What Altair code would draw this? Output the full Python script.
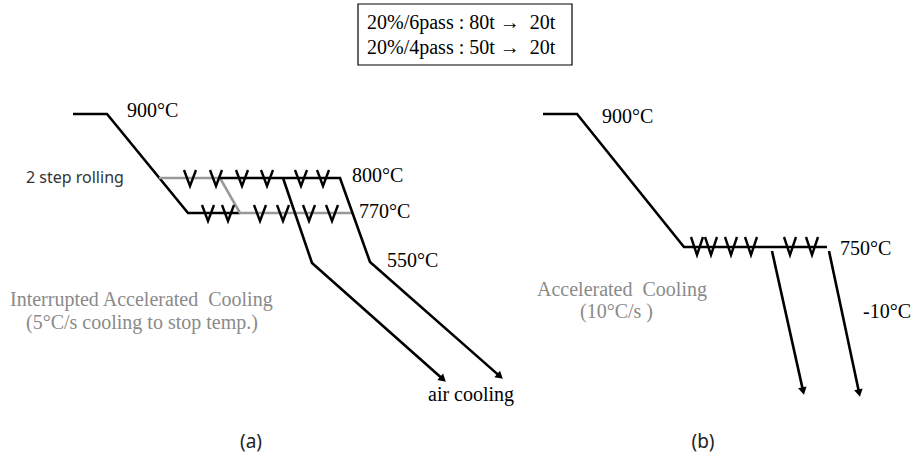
import math
import pandas as pd
import altair as alt

W, H = 918, 457
NB = "\u00a0"

# ---- schematic polylines (x, y in picture units, y downward) ----
path_names = ["a_main", "a_2step", "a_cool_right", "a_cool_left", "b_main", "b_cool_left", "b_cool_right"]
path_colors = ["#000000", "#999999", "#000000", "#000000", "#000000", "#000000", "#000000"]
path_x = [
    [73, 107, 188, 240],
    [159, 220, 240, 353],
    [220, 340, 370, 503],
    [283, 312, 446],
    [543, 577, 684, 827],
    [772, 804],
    [829, 860],
]
path_y = [
    [114, 114, 213, 213],
    [178, 178, 213, 213],
    [178, 178, 262, 379],
    [178, 263, 382],
    [114, 114, 247, 247],
    [251, 395],
    [251, 397],
]
path_arrow = [False, False, True, True, False, True, True]

# ---- rolling pass marks (V), centred on the rolling lines ----
v_upper_x = [190, 216, 242, 267, 301, 323]
v_upper_line = 178
v_lower_x = [208, 228, 260, 283, 309, 332]
v_lower_line = 213
v_b_x = [697, 711, 731, 751, 790, 812]
v_b_line = 247

# ---- labels ----
serif_black = [
    ("900°C", 127, 111), ("800°C", 352, 176), ("770°C", 359, 212), ("550°C", 387, 261),
    ("air cooling", 428, 395), ("900°C", 602, 117), ("750°C", 840, 249), ("-10°C", 863, 312),
    (f"20%/6pass : 80t →{NB} 20t", 367, 23), (f"20%/4pass : 50t →{NB} 20t", 367, 48),
]
serif_gray = [
    (f"Interrupted Accelerated{NB} Cooling", 10, 300), ("(5°C/s cooling to stop temp.)", 26, 323),
    (f"Accelerated{NB} Cooling", 537, 290), ("(10°C/s )", 580, 312),
]
sans_labels = [("2 step rolling", 26, 178)]
panel_labels = [("(a)", 251, 442), ("(b)", 703, 442)]
box_x, box_x2, box_y, box_y2 = 358, 572, 4, 65

# ---- build tables ----
rows, arrows = [], []
for name, col, xs_, ys_, arr in zip(path_names, path_colors, path_x, path_y, path_arrow):
    xs_ = list(xs_); ys_ = list(ys_)
    if arr:
        dx, dy = xs_[-1] - xs_[-2], ys_[-1] - ys_[-2]
        L = math.hypot(dx, dy)
        ux, uy = dx / L, dy / L
        cx, cy = xs_[-1] - ux * 4, ys_[-1] - uy * 4
        ang = math.degrees(math.atan2(dx, -dy)) % 360
        arrows.append({"x": cx, "y": cy, "angle": ang})
        xs_[-1], ys_[-1] = cx, cy
    for i, (x, y) in enumerate(zip(xs_, ys_)):
        rows.append({"path": name, "order": i, "x": x, "y": y, "color": col})
lines_df = pd.DataFrame(rows)
arrows_df = pd.DataFrame(arrows)

# V glyphs drawn as little strokes around each pass position
V_HALF_W, V_UP, V_DOWN = 6, 8, 8
vrows = []
k = 0
for centers, ly, up in [(v_upper_x, v_upper_line, V_UP), (v_lower_x, v_lower_line, V_UP), (v_b_x, v_b_line, 10)]:
    for cxv in centers:
        for j, (ox, oy) in enumerate([(-V_HALF_W, -up), (0, V_DOWN), (V_HALF_W, -up)]):
            vrows.append({"v": k, "order": j, "x": cxv + ox, "y": ly + oy})
        k += 1
v_df = pd.DataFrame(vrows)

def lab(lst):
    return pd.DataFrame([{"t": t, "x": x, "y": y} for t, x, y in lst])

xs = alt.Scale(domain=[0, W], nice=False, zero=False)
ys = alt.Scale(domain=[0, H], reverse=True, nice=False, zero=False)
X = alt.X("x:Q", scale=xs, axis=None)
Y = alt.Y("y:Q", scale=ys, axis=None)

lines = alt.Chart(lines_df).mark_line(strokeWidth=2.6, strokeCap="butt", strokeJoin="miter").encode(
    x=X, y=Y, detail="path:N", order="order:Q", color=alt.Color("color:N", scale=None)
)
heads = alt.Chart(arrows_df).mark_point(shape="triangle-up", filled=True, size=75, color="black", opacity=1).encode(
    x=X, y=Y, angle=alt.Angle("angle:Q", scale=None)
)
vmarks = alt.Chart(v_df).mark_line(strokeWidth=2.4, color="black", strokeJoin="miter").encode(
    x=X, y=Y, detail="v:N", order="order:Q"
)
t_black = alt.Chart(lab(serif_black)).mark_text(font="Liberation Serif", fontSize=20, align="left", baseline="middle", color="black").encode(
    x=X, y=Y, text="t:N"
)
t_gray = alt.Chart(lab(serif_gray)).mark_text(font="Liberation Serif", fontSize=20, align="left", baseline="middle", color="#8a8a8a").encode(
    x=X, y=Y, text="t:N"
)
t_sans = alt.Chart(lab(sans_labels)).mark_text(font="Noto Sans", fontSize=16, align="left", baseline="middle", color="#333333").encode(
    x=X, y=Y, text="t:N"
)
t_panel = alt.Chart(lab(panel_labels)).mark_text(font="Noto Sans", fontSize=19, align="center", baseline="middle", color="#222222").encode(
    x=X, y=Y, text="t:N"
)
box = alt.Chart(pd.DataFrame([{"x": box_x, "x2": box_x2, "y": box_y, "y2": box_y2}])).mark_rect(
    fill=None, stroke="black", strokeWidth=1.2
).encode(x=X, x2="x2:Q", y=Y, y2="y2:Q")

chart = alt.layer(box, lines, heads, vmarks, t_black, t_gray, t_sans, t_panel).properties(
    width=W, height=H, autosize=alt.AutoSizeParams(type="none"), padding=0, background="white"
).configure_view(stroke=None)

chart.save("out.html", embed_options={"renderer": "svg", "actions": False})
